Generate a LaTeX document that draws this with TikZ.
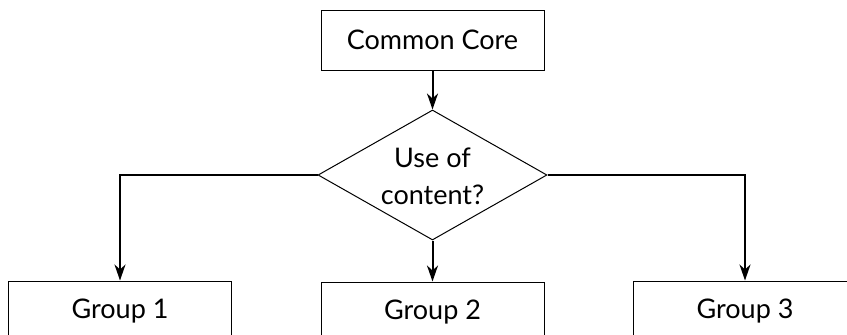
\documentclass[tikz,border=0pt]{standalone}
\usepackage{fontspec}
\setmainfont{Lato}
\usetikzlibrary{arrows.meta,shapes.geometric}
\begin{document}
\begin{tikzpicture}[x=1pt,y=-1pt,
  font=\fontsize{27}{37}\selectfont,
  box/.style={draw, line width=1pt, minimum width=223pt, minimum height=60pt, inner sep=0pt},
  decision/.style={draw, diamond, line width=1pt, minimum width=229pt, minimum height=130pt, inner sep=0pt},
  arr/.style={line width=2pt, -{Stealth[length=16pt, width=11pt, inset=5pt]}}]
\useasboundingbox (0,0) rectangle (847,335);
\clip (0,0) rectangle (847,335);
\node[box] (core) at (432.5,40) {Common Core};
\node[decision] (dec) at (432.5,175) {};
\node[align=center] (dectext) at (432.5,176) {Use of\\content?};
\node[box] (g1) at (120,311) {Group 1};
\node[box] (g2) at (432.5,312) {Group 2};
\node[box] (g3) at (745,311) {Group 3};
\draw[arr] (core) -- (dec);
\draw[arr] (dec) -- (g2);
\draw[arr] (dec.west) -| (g1);
\draw[arr] (dec.east) -| (g3);
\end{tikzpicture}
\end{document}
